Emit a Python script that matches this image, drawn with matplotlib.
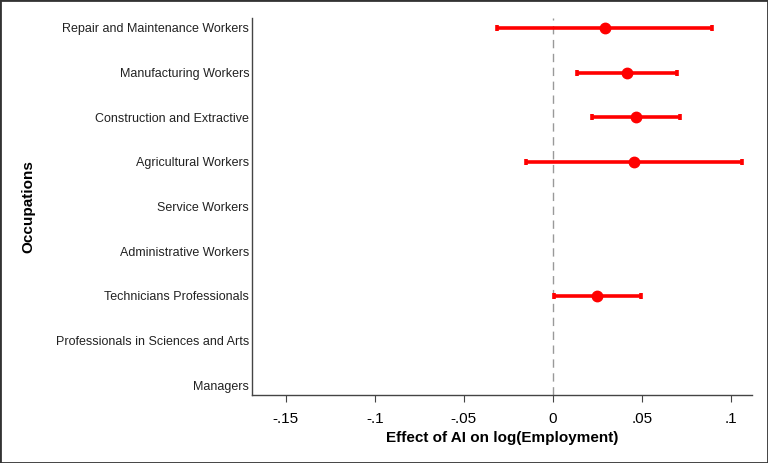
import numpy as np
import matplotlib.pyplot as plt

occupations = ["Managers", "Professionals in Sciences and Arts", "Technicians Professionals",
               "Administrative Workers", "Service Workers", "Agricultural Workers",
               "Construction and Extractive", "Manufacturing Workers",
               "Repair and Maintenance Workers"]
coef = [np.nan, np.nan, 0.0249, np.nan, np.nan, 0.0457, 0.0466, 0.0414, 0.0292]
ci_low = [np.nan, np.nan, 0.0006, np.nan, np.nan, -0.0152, 0.0221, 0.0135, -0.0313]
ci_high = [np.nan, np.nan, 0.0494, np.nan, np.nan, 0.1063, 0.0713, 0.0695, 0.0895]
xticks = [-0.15, -0.1, -0.05, 0, 0.05, 0.1]
xticklabels = ["-.15", "-.1", "-.05", "0", ".05", ".1"]

plt.rcParams['font.family'] = ['Liberation Sans', 'DejaVu Sans']

fig = plt.figure(figsize=(7.68, 4.63), dpi=100)
ax = fig.add_axes([0.328, 0.147, 0.651, 0.814])

y = np.arange(1, len(occupations) + 1)
coef = np.array(coef)
err = np.array([coef - np.array(ci_low), np.array(ci_high) - coef])

ax.axvline(0, color="#999999", linestyle=(0, (6, 4)), linewidth=1, zorder=1)
ax.errorbar(coef, y, xerr=err, fmt="o", color="red", ecolor="red",
            elinewidth=2.6, capsize=2.5, capthick=2.6, markersize=7.5, zorder=3)

ax.set_xlim(-0.169, 0.1118)
ax.set_ylim(0.78, 9.22)
ax.set_yticks(y)
ax.set_yticklabels(occupations, fontsize=9, color="#222222")
ax.tick_params(axis="y", length=0, pad=2)
ax.set_xticks(xticks)
ax.set_xticklabels(xticklabels, fontsize=11)
ax.tick_params(axis="x", length=5, color="#444444", pad=7)

for s in ["top", "right"]:
    ax.spines[s].set_visible(False)
for s in ["left", "bottom"]:
    ax.spines[s].set_color("#444444")
    ax.spines[s].set_linewidth(1)

ax.set_xlabel("Effect of AI on log(Employment)", fontsize=11, fontweight="bold", labelpad=4)
ax.set_ylabel("Occupations", fontsize=11, fontweight="bold")
ax.yaxis.set_label_coords(-0.434, 0.5)

fig.patches.append(plt.Rectangle((0, 0), 1, 1, transform=fig.transFigure,
                                 fill=False, edgecolor="#333333", linewidth=2))

fig.savefig("out.png", dpi=100)
